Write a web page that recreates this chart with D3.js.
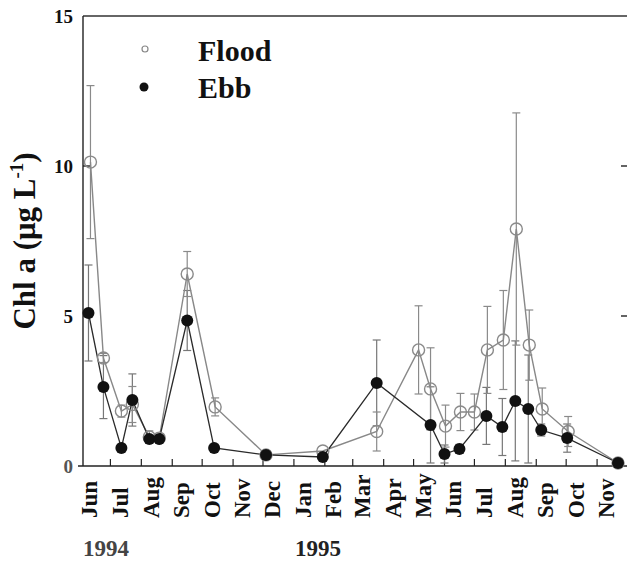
<!DOCTYPE html>
<html>
<head>
<meta charset="utf-8">
<script src="https://cdn.jsdelivr.net/npm/d3@7"></script>
<style>
  body { margin: 0; background: #fff; }
  svg { display: block; }
  text { font-family: "Liberation Serif", "Times New Roman", serif; font-weight: bold; }
</style>
</head>
<body>
<svg id="chart" width="627" height="562"></svg>
<script>
// ---- data ----
const floodDates = ["1994-06-11","1994-06-24","1994-07-12","1994-07-23","1994-08-09","1994-08-19","1994-09-16","1994-10-14","1994-12-04","1995-01-30","1995-03-25","1995-05-06","1995-05-18","1995-06-02","1995-06-17","1995-07-01","1995-07-14","1995-07-30","1995-08-12","1995-08-25","1995-09-07","1995-10-03","1995-11-22"];
const floodValues = [10.13, 3.6, 1.83, 2.05, 0.97, 0.93, 6.4, 1.97, 0.37, 0.5, 1.15, 3.87, 2.57, 1.33, 1.8, 1.8, 3.87, 4.2, 7.9, 4.03, 1.9, 1.15, 0.1];
const floodErrors = [2.55, 0.15, 0.2, 0.6, 0.2, 0.1, 0.75, 0.3, 0.05, 0.1, 0.65, 1.47, 1.37, 0.7, 0.62, 0.6, 1.45, 1.65, 3.87, 1.17, 0.7, 0.5, 0];

const ebbDates = ["1994-06-09","1994-06-24","1994-07-12","1994-07-23","1994-08-09","1994-08-19","1994-09-16","1994-10-13","1994-12-04","1995-01-30","1995-03-25","1995-05-18","1995-06-01","1995-06-16","1995-07-13","1995-07-29","1995-08-11","1995-08-24","1995-09-06","1995-10-02","1995-11-22"];
const ebbValues = [5.1, 2.63, 0.6, 2.2, 0.9, 0.9, 4.85, 0.6, 0.37, 0.3, 2.77, 1.37, 0.4, 0.57, 1.67, 1.3, 2.17, 1.9, 1.2, 0.93, 0.1];
const ebbErrors = [1.6, 1.05, 0, 0.87, 0.1, 0.1, 1.0, 0, 0, 0.05, 1.43, 1.27, 0.3, 0.15, 0.95, 0.95, 2.0, 1.8, 0.2, 0.47, 0];

const monthLabels = ["Jun","Jul","Aug","Sep","Oct","Nov","Dec","Jan","Feb","Mar","Apr","May","Jun","Jul","Aug","Sep","Oct","Nov"];
const yearLabels = ["1994","1995"];
const yTicks = [0, 5, 10, 15];
const seriesNames = ["Flood","Ebb"];

// ---- scales ----
const parse = d3.timeParse("%Y-%m-%d");
const svg = d3.select("#chart");
const x = d3.scaleTime()
  .domain([new Date(1994,5,1), new Date(1995,11,1)])
  .range([80.5, 627]);
const y = d3.scaleLinear().domain([0, 15]).range([466, 16]);

const monthStarts = d3.timeMonth.range(new Date(1994,5,1), new Date(1995,11,1));

// ---- axes ----
// top border
svg.append("line").attr("x1", 83).attr("x2", 627).attr("y1", y(15)).attr("y2", y(15))
  .attr("stroke", "#333").attr("stroke-width", 1.3);
// left axis
svg.append("line").attr("x1", 83).attr("x2", 83).attr("y1", y(15)).attr("y2", y(0))
  .attr("stroke", "#222").attr("stroke-width", 1.4);
// bottom axis
svg.append("line").attr("x1", 78).attr("x2", 627).attr("y1", y(0)).attr("y2", y(0))
  .attr("stroke", "#222").attr("stroke-width", 1.4);

// y ticks (inward) + labels
const yt = svg.append("g");
yt.selectAll("line.yt").data(yTicks.filter(d => d > 0 && d < 15)).enter().append("line")
  .attr("x1", 83).attr("x2", 91).attr("y1", d => y(d)).attr("y2", d => y(d))
  .attr("stroke", "#222").attr("stroke-width", 1.4);
// right side ticks
yt.selectAll("line.rt").data(yTicks.filter(d => d > 0 && d < 15)).enter().append("line")
  .attr("x1", 621).attr("x2", 627).attr("y1", d => y(d)).attr("y2", d => y(d))
  .attr("stroke", "#222").attr("stroke-width", 1.4);
yt.selectAll("text").data(yTicks).enter().append("text")
  .attr("x", 73).attr("y", d => y(d)).attr("dy", "0.36em")
  .attr("text-anchor", "end").attr("font-size", 19)
  .attr("fill", d => d === 0 ? "#555" : "#111")
  .text(d => d);

// x ticks (inward, month starts)
svg.append("g").selectAll("line").data(monthStarts.slice(1)).enter().append("line")
  .attr("x1", d => x(d)).attr("x2", d => x(d))
  .attr("y1", y(0)).attr("y2", y(0) - 7)
  .attr("stroke", "#222").attr("stroke-width", 1.2);

// month labels (rotated, mid-month)
svg.append("g").selectAll("text").data(monthStarts).enter().append("text")
  .attr("transform", (d, i) => {
    const mid = (x(d) + x(d3.timeMonth.offset(d, 1))) / 2 + 2;
    return `translate(${mid},518) rotate(-90)`;
  })
  .attr("text-anchor", "start").attr("font-size", 23).attr("fill", "#111")
  .text((d, i) => monthLabels[i]);

// year labels
svg.append("text").attr("x", 83).attr("y", 556).attr("font-size", 23).attr("fill", "#444")
  .text(yearLabels[0]);
svg.append("text").attr("x", x(new Date(1995,0,1)) + 1).attr("y", 556).attr("font-size", 23).attr("fill", "#222")
  .text(yearLabels[1]);

// y axis title
const yTitle = svg.append("text")
  .attr("transform", `translate(35,${(y(0) + y(15)) / 2}) rotate(-90)`)
  .attr("text-anchor", "middle").attr("font-size", 31).attr("fill", "#111");
yTitle.append("tspan").text("Chl a (μg L");
yTitle.append("tspan").attr("font-size", 19).attr("dy", -12).text("-1");
yTitle.append("tspan").attr("dy", 12).text(")");

// ---- data marks ----
const flood = floodDates.map((d, i) => ({ date: parse(d), v: floodValues[i], e: floodErrors[i] }));
const ebb = ebbDates.map((d, i) => ({ date: parse(d), v: ebbValues[i], e: ebbErrors[i] }));

function errorBars(data, color) {
  const g = svg.append("g").attr("stroke", color).attr("stroke-width", 1.2);
  const withErr = data.filter(d => d.e > 0.12);
  g.selectAll("line.v").data(withErr).enter().append("line")
    .attr("x1", d => x(d.date)).attr("x2", d => x(d.date))
    .attr("y1", d => y(d.v - d.e)).attr("y2", d => y(d.v + d.e));
  g.selectAll("line.t").data(withErr).enter().append("line")
    .attr("x1", d => x(d.date) - 4).attr("x2", d => x(d.date) + 4)
    .attr("y1", d => y(d.v + d.e)).attr("y2", d => y(d.v + d.e));
  g.selectAll("line.b").data(withErr).enter().append("line")
    .attr("x1", d => x(d.date) - 4).attr("x2", d => x(d.date) + 4)
    .attr("y1", d => y(d.v - d.e)).attr("y2", d => y(d.v - d.e));
}

errorBars(ebb, "#777");
errorBars(flood, "#8a8a8a");

const line = d3.line().x(d => x(d.date)).y(d => y(d.v));
svg.append("path").datum(flood).attr("d", line)
  .attr("fill", "none").attr("stroke", "#888").attr("stroke-width", 1.4);
svg.append("path").datum(ebb).attr("d", line)
  .attr("fill", "none").attr("stroke", "#2a2a2a").attr("stroke-width", 1.3);

svg.append("g").selectAll("circle").data(flood).enter().append("circle")
  .attr("cx", d => x(d.date)).attr("cy", d => y(d.v)).attr("r", 6)
  .attr("fill", "none").attr("stroke", "#8a8a8a").attr("stroke-width", 1.4);
svg.append("g").selectAll("circle").data(ebb).enter().append("circle")
  .attr("cx", d => x(d.date)).attr("cy", d => y(d.v)).attr("r", 6)
  .attr("fill", "#111");

// ---- legend ----
const legend = svg.append("g");
legend.append("circle").attr("cx", 145).attr("cy", 49).attr("r", 3)
  .attr("fill", "none").attr("stroke", "#888").attr("stroke-width", 1.2);
legend.append("circle").attr("cx", 144).attr("cy", 87).attr("r", 4.5).attr("fill", "#111");
legend.append("text").attr("x", 198).attr("y", 61).attr("font-size", 30).attr("fill", "#111").text(seriesNames[0]);
legend.append("text").attr("x", 198).attr("y", 98).attr("font-size", 30).attr("fill", "#111").text(seriesNames[1]);
</script>
</body>
</html>
